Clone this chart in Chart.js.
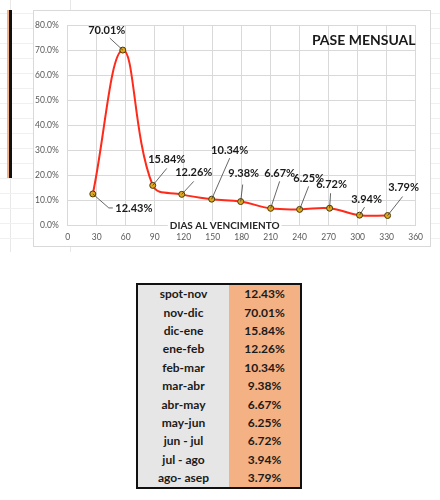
<!DOCTYPE html>
<html>
<head>
<meta charset="utf-8">
<script src="https://cdn.jsdelivr.net/npm/chart.js@4"></script>
<style>
  body { margin: 0; width: 440px; height: 500px; background: #fff; position: relative; overflow: hidden; font-family: Lato, "Liberation Sans", sans-serif; }
  .sheet {
    position: absolute; left: 0; top: 0; width: 440px; height: 252px;
    background-image:
      repeating-linear-gradient(to bottom, transparent 0, transparent 13px, #f0f0f0 13px, #f0f0f0 14px, transparent 14px, transparent 15px),
      linear-gradient(to right, transparent 10px, #e8e8e8 10px, #e8e8e8 11px, transparent 11px, transparent 70px, #e8e8e8 70px, #e8e8e8 71px, transparent 71px);
  }
  .bar { position: absolute; left: 7px; top: 10px; width: 2px; height: 168px; background: #f4b183; }
  .bar2 { position: absolute; left: 9px; top: 10px; width: 3px; height: 168px; background: #111; }
  .chartBox { position: absolute; left: 33px; top: 10px; width: 398px; height: 237px; background: #fff; border: 1px solid #d9d9d9; box-sizing: border-box; }
  table { position: absolute; left: 136px; top: 283px; width: 166px; border-collapse: collapse; border: 2px solid #111; }
  td { height: 18.4px; padding: 0; text-align: center; font-weight: bold; font-size: 12px; color: #1a1a1a; line-height: 18px; }
  td.cat { background: #e7e6e6; width: 91px; }
  td.val { background: #f4b183; }
</style>
</head>
<body>
<div class="sheet"></div>
<div class="bar"></div>
<div class="bar2"></div>
<div class="chartBox"><canvas id="chart"></canvas></div>
<table id="tbl"></table>
<script>
// days to expiry and monthly pass rate (%)
const days = [26, 57, 88, 118, 149, 179, 210, 240, 271, 302, 331];
const pase = [12.43, 70.01, 15.84, 12.26, 10.34, 9.38, 6.67, 6.25, 6.72, 3.94, 3.79];
const periods = ['spot-nov', 'nov-dic', 'dic-ene', 'ene-feb', 'feb-mar', 'mar-abr', 'abr-may', 'may-jun', 'jun - jul', 'jul - ago', 'ago- asep'];
const xTicks = [0, 30, 60, 90, 120, 150, 180, 210, 240, 270, 300, 330, 360];
const yTicks = [0, 10, 20, 30, 40, 50, 60, 70, 80];

// table under the chart
const tbl = document.getElementById('tbl');
periods.forEach((p, i) => {
  const tr = document.createElement('tr');
  tr.innerHTML = `<td class="cat">${p}</td><td class="val">${pase[i].toFixed(2)}%</td>`;
  tbl.appendChild(tr);
});

// label placement: offset from point, then leader end relative to label centre
const labelPos = [
  [41, 15, -25, -1], [-16, -20, 3, 8], [14, -26, 0, 9], [12, -22, 0, 9],
  [18, -49, 0, 8], [3, -28, -1, 11], [9, -35, 0, 8], [9, -31, 0, 8],
  [2, -24, -1, 9], [7, -16, -2, 8], [16, -28, -1, 9],
];

const labelsPlugin = {
  id: 'paseLabels',
  afterDatasetsDraw(chart) {
    const { ctx, chartArea } = chart;
    const meta = chart.getDatasetMeta(0);
    ctx.save();
    // axis title sits on the bottom axis
    ctx.font = 'bold 10px Lato';
    ctx.textAlign = 'center';
    ctx.textBaseline = 'middle';
    const axTitle = 'DIAS AL VENCIMIENTO';
    const tw = ctx.measureText(axTitle).width;
    const cx = (chartArea.left + chartArea.right) / 2 - 17;
    ctx.fillStyle = '#fff';
    ctx.fillRect(cx - tw / 2 - 2, chartArea.bottom - 4, tw + 4, 9);
    ctx.fillStyle = '#262626';
    ctx.fillText(axTitle, cx, chartArea.bottom + 1);

    // chart title
    ctx.font = 'bold 14px Lato';
    ctx.textAlign = 'right';
    ctx.fillStyle = '#1a1a1a';
    ctx.fillText('PASE MENSUAL', chartArea.right, chartArea.top + 15);

    meta.data.forEach((pt, i) => {
      const [dx, dy, ex, ey] = labelPos[i];
      const lx = pt.x + dx, ly = pt.y + dy;
      ctx.strokeStyle = '#404040';
      ctx.lineWidth = 0.8;
      ctx.beginPath();
      ctx.moveTo(pt.x, pt.y);
      ctx.lineTo(lx + ex, ly + ey);
      if (i === 0) ctx.lineTo(lx + ex + 4, ly + ey);
      ctx.stroke();
      ctx.font = 'bold 11px Lato';
      ctx.textAlign = 'center';
      ctx.fillStyle = '#1a1a1a';
      ctx.fillText(pase[i].toFixed(2) + '%', lx, ly);
    });
    ctx.restore();
  },
};

new Chart(document.getElementById('chart'), {
  type: 'line',
  data: {
    datasets: [{
      data: days.map((d, i) => ({ x: d, y: pase[i] })),
      borderColor: '#ff2a1a',
      borderWidth: 2,
      tension: 0.4,
      pointRadius: 3,
      pointBackgroundColor: '#e0a820',
      pointBorderColor: '#4a3a08',
      pointBorderWidth: 1,
    }],
  },
  options: {
    responsive: true,
    maintainAspectRatio: false,
    animation: false,
    layout: { padding: { top: 10.7, right: 14, bottom: 0, left: 0 } },
    plugins: { legend: { display: false }, tooltip: { enabled: false } },
    scales: {
      x: {
        type: 'linear',
        min: 0,
        max: 360,
        afterBuildTicks: (s) => { s.ticks = xTicks.map((v) => ({ value: v })); },
        afterFit: (s) => { s.height = 21; },
        ticks: { padding: 7, color: '#595959', font: { family: 'Lato', size: 8.5 } },
        grid: { color: '#d9d9d9', drawTicks: false },
        border: { color: '#d9d9d9' },
      },
      y: {
        min: 0,
        max: 80,
        afterBuildTicks: (s) => { s.ticks = yTicks.map((v) => ({ value: v })); },
        afterFit: (s) => { s.width = 33.7; },
        ticks: { padding: 9, color: '#595959', font: { family: 'Lato', size: 8.5 }, callback: (v) => v.toFixed(1) + '%' },
        grid: { color: '#d9d9d9', drawTicks: false },
        border: { color: '#d9d9d9' },
      },
    },
  },
  plugins: [labelsPlugin],
});
</script>
</body>
</html>
